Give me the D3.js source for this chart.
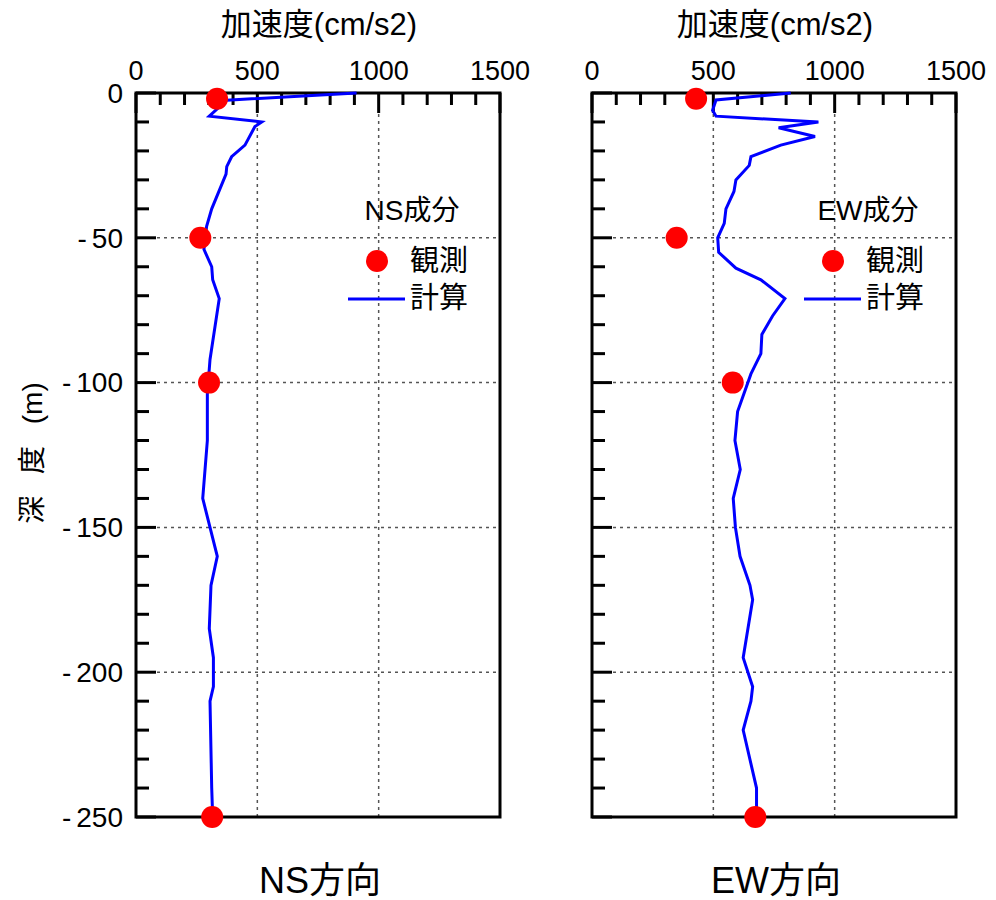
<!DOCTYPE html>
<html>
<head>
<meta charset="utf-8">
<script src="https://cdn.jsdelivr.net/npm/d3@7"></script>
<style>
  body { margin: 0; background: #fff; }
  svg { display: block; }
  text { font-family: "Liberation Sans", Arial, "Noto Sans CJK JP", sans-serif; fill: #000; }
</style>
</head>
<body>
<svg id="chart" width="996" height="900"></svg>
<script>
// ---------- data ----------
const xTickLabels = [0, 500, 1000, 1500];
const yTickLabels = [0, -50, -100, -150, -200, -250];
const xAxisTitle = "加速度(cm/s2)";
const yAxisTitleParts = ["深", " 度", " (m)"];
const panelTitles = ["NS方向", "EW方向"];
const legendTitles = ["NS成分", "EW成分"];
const legendLabels = ["観測", "計算"];

// observed (観測)
const obsDepth = [-2, -50, -100, -250];
const obsNS = [334, 265, 301, 314];
const obsEW = [429, 349, 580, 673];

// calculated (計算)
const calcDepthNS = [0, -2.5, -8, -10, -11.6, -18, -22, -25.4, -28, -40, -46, -54, -60, -64.5, -71, -92, -104, -120, -140, -160, -170, -185, -195, -205, -210, -240, -250];
const calcNS      = [909, 374, 302, 518, 490, 449, 394, 374, 371, 312, 291, 280, 312, 316, 343, 305, 294, 294, 275, 335, 309, 302, 319, 319, 305, 312, 316];

const calcDepthEW = [0, -2.4, -6, -8, -10, -12, -15, -18, -22, -25, -30, -34, -40, -45, -50, -55, -60.5, -64.5, -71, -77, -83.4, -90, -97, -110, -120, -130, -140, -150, -160, -170, -175, -195, -205, -210, -220, -240, -250];
const calcEW      = [819, 511, 497, 511, 933, 769, 919, 778, 655, 648, 593, 585, 552, 545, 518, 522, 593, 696, 795, 744, 700, 696, 655, 600, 589, 611, 582, 591, 610, 651, 662, 623, 662, 655, 623, 678, 678];

// ---------- layout ----------
const svg = d3.select("#chart");
const W = 364, H = 724;
const panels = [
  { left: 136, top: 93, obs: obsNS, calcD: calcDepthNS, calc: calcNS, legend: legendTitles[0], title: panelTitles[0], yLabels: true },
  { left: 592, top: 93, obs: obsEW, calcD: calcDepthEW, calc: calcEW, legend: legendTitles[1], title: panelTitles[1], yLabels: false }
];

const x = d3.scaleLinear().domain([0, 1500]).range([0, W]);
const y = d3.scaleLinear().domain([0, -250]).range([0, H]);

const minorX = d3.range(0, 1501, 100).filter(v => v % 500 !== 0);
const minorY = d3.range(0, -251, -10).filter(v => v % 50 !== 0);

panels.forEach(p => {
  const g = svg.append("g").attr("transform", `translate(${p.left},${p.top})`);

  // grid
  const grid = g.append("g").attr("stroke", "#555").attr("stroke-width", 1.5).attr("stroke-dasharray", "3,4");
  grid.selectAll("line.vx").data([500, 1000]).join("line")
    .attr("x1", d => x(d)).attr("x2", d => x(d)).attr("y1", 0).attr("y2", H);
  grid.selectAll("line.hy").data([-50, -100, -150, -200]).join("line")
    .attr("y1", d => y(d)).attr("y2", d => y(d)).attr("x1", 0).attr("x2", W);

  // ticks (inward)
  const ticks = g.append("g").attr("stroke", "#000").attr("stroke-width", 3);
  ticks.selectAll("line.mx").data(minorX).join("line")
    .attr("x1", d => x(d)).attr("x2", d => x(d)).attr("y1", 0).attr("y2", 12);
  ticks.selectAll("line.Mx").data(xTickLabels).join("line")
    .attr("x1", d => x(d)).attr("x2", d => x(d)).attr("y1", 0).attr("y2", 20);
  ticks.selectAll("line.my").data(minorY).join("line")
    .attr("y1", d => y(d)).attr("y2", d => y(d)).attr("x1", 0).attr("x2", 13);
  ticks.selectAll("line.My").data(yTickLabels).join("line")
    .attr("y1", d => y(d)).attr("y2", d => y(d)).attr("x1", 0).attr("x2", 20);

  // frame
  g.append("rect").attr("x", 0).attr("y", 0).attr("width", W).attr("height", H)
    .attr("fill", "none").attr("stroke", "#000").attr("stroke-width", 3);

  // top tick labels
  g.selectAll("text.xt").data(xTickLabels).join("text")
    .attr("x", d => x(d)).attr("y", -13)
    .attr("text-anchor", "middle").attr("font-size", 27)
    .text(d => d);

  // y tick labels
  if (p.yLabels) {
    const yt = g.selectAll("text.yt").data(yTickLabels).join("text")
      .attr("x", -13).attr("y", d => y(d)).attr("dy", "0.35em")
      .attr("text-anchor", "end").attr("font-size", 28);
    yt.each(function(d) {
      const t = d3.select(this);
      if (d < 0) {
        t.append("tspan").text("-");
        t.append("tspan").attr("dx", 5).text(Math.abs(d));
      } else {
        t.text(d);
      }
    });
  }

  // axis title
  g.append("text").attr("x", W / 2 + 1).attr("y", -58)
    .attr("text-anchor", "middle").attr("font-size", 31).text(xAxisTitle);

  // panel title
  g.append("text").attr("x", W / 2 + 2).attr("y", 800)
    .attr("text-anchor", "middle").attr("font-size", 36).text(p.title);

  // calc line
  const line = d3.line().x(d => x(d[1])).y(d => y(d[0]));
  const pts = p.calcD.map((d, i) => [d, p.calc[i]]);
  g.append("path").datum(pts).attr("d", line)
    .attr("fill", "none").attr("stroke", "#0000ff").attr("stroke-width", 3)
    .attr("stroke-linejoin", "miter");

  // observed dots
  g.selectAll("circle.obs").data(obsDepth.map((d, i) => [d, p.obs[i]])).join("circle")
    .attr("cx", d => x(d[1])).attr("cy", d => y(d[0])).attr("r", 11).attr("fill", "#ff0000");

  // legend
  const lg = g.append("g");
  lg.append("text").attr("x", 276).attr("y", 127).attr("text-anchor", "middle")
    .attr("font-size", 28).text(p.legend);
  lg.append("circle").attr("cx", 241).attr("cy", 168).attr("r", 11).attr("fill", "#ff0000");
  lg.append("line").attr("x1", 212).attr("x2", 269).attr("y1", 206).attr("y2", 206)
    .attr("stroke", "#0000ff").attr("stroke-width", 3);
  lg.append("text").attr("x", 274).attr("y", 168).attr("dy", "0.36em")
    .attr("font-size", 29).text(legendLabels[0]);
  lg.append("text").attr("x", 274).attr("y", 205).attr("dy", "0.36em")
    .attr("font-size", 29).text(legendLabels[1]);
});

// y axis title
const yt = svg.append("text")
  .attr("transform", "translate(32,453) rotate(-90)")
  .attr("text-anchor", "middle").attr("dy", "0.35em")
  .attr("font-size", 28);
yAxisTitleParts.forEach((s, i) => {
  yt.append("tspan").attr("dx", i === 0 ? 0 : 14).text(s);
});
</script>
</body>
</html>
